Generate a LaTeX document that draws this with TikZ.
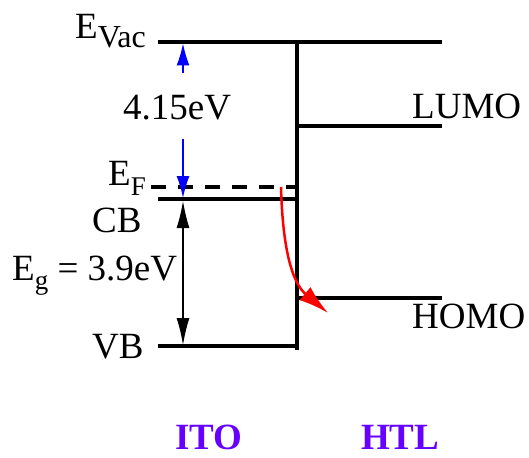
\documentclass[tikz,border=0pt]{standalone}
\usepackage{fontspec}
\setmainfont{Liberation Serif}
\usetikzlibrary{arrows.meta}
\definecolor{labpurple}{RGB}{102,0,255}
\definecolor{arrblue}{RGB}{0,0,255}
\begin{document}
\begin{tikzpicture}[x=1pt,y=-1pt,
  level/.style={line width=3.2pt},
  lbl/.style={anchor=base west,inner sep=0pt,font=\fontsize{37}{40}\selectfont},
  side/.style={anchor=base west,inner sep=0pt,font=\fontsize{37}{40}\selectfont\bfseries,text=labpurple}]
\useasboundingbox (0,0) rectangle (529,457);
% coordinates
\coordinate (vacL) at (158,42);
\coordinate (vacR) at (442,42);
\coordinate (top) at (297,41);
\coordinate (bot) at (297,350);
\coordinate (lumoL) at (297,126);
\coordinate (lumoR) at (442,126);
\coordinate (homoL) at (297,298);
\coordinate (homoR) at (442,298);
\coordinate (efL) at (151,187);
\coordinate (efR) at (297,187);
\coordinate (cbL) at (158,199);
\coordinate (cbR) at (297,199);
\coordinate (vbL) at (158,346);
\coordinate (vbR) at (297,346);
% levels
\draw[level] (vacL) -- (vacR);
\draw[level] (top) -- (bot);
\draw[level] (lumoL) -- (lumoR);
\draw[level] (homoL) -- (homoR);
\draw[level,dash pattern=on 15pt off 12pt] (efL) -- (efR);
\draw[level] (cbL) -- (cbR);
\draw[level] (vbL) -- (vbR);
% blue arrow
\coordinate (b1) at (183,43.5);
\coordinate (b2) at (183,73);
\coordinate (b3) at (183,139);
\coordinate (b4) at (183,198);
\draw[arrblue,line width=1.5pt,-{Latex[length=22pt,width=13pt]}] (b2) -- (b1);
\draw[arrblue,line width=1.5pt,-{Latex[length=22pt,width=13pt]}] (b3) -- (b4);
% black arrow
\coordinate (k1) at (183,201);
\coordinate (k2) at (183,345);
\draw[line width=1.3pt,{Latex[length=27pt,width=13pt]}-{Latex[length=27pt,width=13pt]}] (k1) -- (k2);
% red arrow
\coordinate (r1) at (281,187);
\coordinate (r2) at (328,313);
\draw[red,line width=2.5pt,-{Latex[length=30pt,width=17pt]}] (r1) .. controls (283,262) and (296,286) .. (r2);
% labels
\node[lbl] (evac) at (75,39) {E\raisebox{-9pt}{\fontsize{32}{34}\selectfont Vac}};
\node[lbl] (gap) at (123,120) {4.15eV};
\node[lbl] (ef) at (108,185) {E\raisebox{-10pt}{\fontsize{27}{30}\selectfont F}};
\node[lbl] (cb) at (92,232) {CB};
\node[lbl] (eg) at (12,280) {E\raisebox{-9pt}{\fontsize{27}{30}\selectfont g} = 3.9eV};
\node[lbl] (vb) at (92,358) {VB};
\node[lbl] (lumo) at (412,119) {LUMO};
\node[lbl] (homo) at (412,328) {HOMO};
\node[side] (ito) at (175,449) {ITO};
\node[side] (htl) at (361,449) {HTL};
\end{tikzpicture}
\end{document}
